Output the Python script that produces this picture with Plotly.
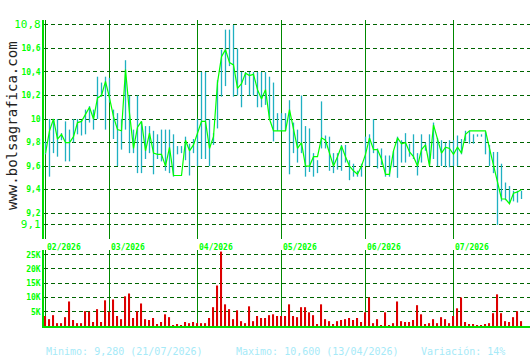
import plotly.graph_objects as go

# ---------------- data ----------------
high = [9.81, 10.0, 10.0, 10.0, 9.88, 9.98, 9.91, 10.0, 10.0, 9.99,
        10.08, 10.11, 10.08, 10.36, 10.31, 10.36, 10.35, 10.08, 10.05, 10.0,
        10.5, 10.2, 9.91, 10.2, 9.98, 9.94, 9.94, 9.9, 9.87, 9.91,
        9.91, 9.91, 9.87, 9.77, 9.77, 9.85, 9.79, 9.83, 10.0, 10.4,
        10.4, 10.0, 9.88, 10.33, 10.59, 10.76, 10.76, 10.8, 10.6, 10.4,
        10.4, 10.4, 10.4, 10.4, 10.4, 10.4, 10.36, 10.31, 10.05, 10.05,
        10.05, 10.16, 9.97, 9.91, 10.2, 9.94, 9.92, 9.71, 9.65, 10.15,
        9.86, 9.85, 9.71, 9.71, 9.78, 9.78, 9.65, 9.62, 9.56, 9.62,
        9.85, 9.87, 10.0, 9.75, 9.75, 9.69, 9.69, 9.73, 9.85, 9.82,
        9.88, 9.79, 9.87, 9.71, 9.87, 9.8, 9.87, 9.97, 9.84, 9.82,
        9.8, 9.82, 9.82, 9.86, 9.83, 9.9, 9.9, 9.87, 9.87, 9.87,
        9.89, 9.78, 9.72, 9.72, 9.62, 9.46, 9.43, 9.39, 9.39, 9.39]
low = [9.70, 9.51, 9.71, 9.68, 9.82, 9.64, 9.64, 9.8, 9.87, 9.86,
       9.87, 9.97, 9.91, 10.0, 10.19, 9.91, 10.14, 9.83, 9.6, 9.74,
       9.91, 9.71, 9.71, 9.54, 9.54, 9.66, 9.71, 9.53, 9.66, 9.64,
       9.56, 9.54, 9.51, 9.7, 9.71, 9.65, 9.52, 9.71, 9.6, 9.66,
       9.66, 9.6, 9.78, 9.92, 10.19, 10.28, 10.45, 10.19, 10.2, 10.1,
       10.29, 10.2, 10.2, 10.1, 10.1, 10.12, 10.0, 9.81, 9.9, 9.9,
       9.9, 9.53, 9.71, 9.63, 9.71, 9.51, 9.55, 9.51, 9.54, 9.75,
       9.75, 9.56, 9.54, 9.57, 9.56, 9.63, 9.48, 9.51, 9.51, 9.51,
       9.6, 9.6, 9.71, 9.58, 9.61, 9.51, 9.51, 9.59, 9.5, 9.63,
       9.63, 9.68, 9.66, 9.52, 9.63, 9.73, 9.62, 9.66, 9.6, 9.6,
       9.59, 9.59, 9.6, 9.6, 9.7, 9.81, 9.79, 9.79, 9.85, 9.85,
       9.7, 9.6, 9.54, 9.1, 9.3, 9.31, 9.29, 9.3, 9.29, 9.32]
close = [9.71, 9.9, 10.0, 9.83, 9.87, 9.8, 9.8, 9.85, 9.97, 9.98,
         10.04, 10.1, 10.0, 10.18, 10.2, 10.32, 10.18, 10.02, 9.91, 9.9,
         10.42, 10.05, 9.75, 9.93, 9.98, 9.73, 9.88, 9.71, 9.7, 9.7,
         9.6, 9.76, 9.52, 9.52, 9.52, 9.82, 9.73, 9.78, 9.88, 9.98,
         9.98, 9.75, 9.85, 10.31, 10.53, 10.59, 10.48, 10.46, 10.26, 10.3,
         10.39, 10.37, 10.38, 10.25, 10.17, 10.25, 10.0, 9.9, 9.9, 9.9,
         9.9, 10.08, 9.91, 9.75, 9.8, 9.6, 9.6, 9.68, 9.68, 9.84,
         9.82, 9.71, 9.6, 9.68, 9.77, 9.68, 9.6, 9.56, 9.53, 9.6,
         9.7, 9.84, 9.74, 9.74, 9.66, 9.53, 9.53, 9.73, 9.84, 9.79,
         9.8, 9.72, 9.68, 9.6, 9.74, 9.78, 9.6, 9.95, 9.82, 9.71,
         9.76, 9.75, 9.7, 9.76, 9.71, 9.87, 9.9, 9.9, 9.9, 9.9,
         9.9, 9.75, 9.6, 9.46, 9.32, 9.32, 9.28, 9.37, 9.38, 9.4]
volume = [3500, 2400, 3800, 1000, 1000, 3100, 8600, 2100, 1000, 1000,
          5200, 5000, 1400, 5900, 1400, 9000, 5000, 9300, 3500, 2400,
          10400, 11400, 2800, 5200, 7900, 2400, 2100, 2800, 700, 1400,
          4100, 3100, 350, 700, 350, 1400, 1000, 1400, 1000, 1000,
          1000, 2800, 6600, 14200, 26100, 7600, 5900, 2400, 5500, 1700,
          1000, 6900, 1700, 3500, 2800, 2800, 3800, 4100, 3500, 3500,
          3500, 7600, 3500, 3100, 6600, 6600, 4800, 3800, 700, 7600,
          2400, 1700, 700, 1700, 2100, 2400, 2800, 2100, 2800, 1400,
          4800, 10000, 1000, 2400, 350, 4800, 350, 1000, 8600, 1700,
          1400, 1400, 2100, 7300, 4100, 700, 1000, 2400, 1000, 3100,
          2400, 1000, 3500, 6200, 10000, 1400, 700, 700, 350, 350,
          700, 1000, 4500, 11100, 4500, 1700, 1400, 3100, 5200, 1700]

month_idx = [0, 16, 38, 59, 80, 102]
month_labels = ["02/2026", "03/2026", "04/2026", "05/2026", "06/2026", "07/2026"]

price_ticks = [10.8, 10.6, 10.4, 10.2, 10.0, 9.8, 9.6, 9.4, 9.2, 9.1]
price_labels = ["10,8", "10,6", "10,4", "10,2", "10", "9,8", "9,6", "9,4", "9,2", "9,1"]
vol_ticks = [5000, 10000, 15000, 20000, 25000]
vol_labels = ["5K", "10K", "15K", "20K", "25K"]

footer = ["Minimo: 9,280 (21/07/2026)", "Maximo: 10,600 (13/04/2026)", "Variación: 14%"]
watermark = "www.bolsagrafica.com"

# ---------------- figure ----------------
idx = list(range(len(close)))
MONO = "DejaVu Sans Mono"
GREEN = "#00ff00"

hl_x, hl_y = [], []
for i in idx:
    hl_x += [i, i, None]
    hl_y += [low[i], high[i], None]

big = {0, len(price_ticks) - 1}
ptext = [f"<span style='font-size:11px;font-weight:normal'>{t}</span>" if k in big else t
         for k, t in enumerate(price_labels)]

fig = go.Figure()
fig.add_trace(go.Scatter(x=hl_x, y=hl_y, mode="lines", line=dict(color="#1fb0c2", width=1.3),
                         xaxis="x", yaxis="y", hoverinfo="skip"))
fig.add_trace(go.Scatter(x=idx, y=close, mode="lines", line=dict(color=GREEN, width=1.2),
                         xaxis="x", yaxis="y"))
fig.add_trace(go.Bar(x=idx, y=volume, width=0.28, marker=dict(color="#dd0000", line=dict(width=0)),
                     xaxis="x2", yaxis="y2"))

main_bottom = (326 - 239) / 306
vol_top = 76 / 306

xcommon = dict(range=[-0.375, 121.125], tickvals=month_idx, showticklabels=False, ticks="",
               showgrid=True, gridcolor="#008800", gridwidth=1.2, zeroline=False)

fig.update_layout(
    width=530, height=360,
    margin=dict(l=44, r=0, t=20, b=34),
    paper_bgcolor="white", plot_bgcolor="white",
    showlegend=False,
    xaxis=dict(**xcommon, anchor="y", showline=False),
    xaxis2=dict(**xcommon, anchor="y2", showline=True, linecolor="#00dd00", linewidth=1.5),
    yaxis=dict(domain=[main_bottom, 1], range=[8.98, 10.842], tickvals=price_ticks, ticktext=ptext,
               showgrid=True, gridcolor="#006400", gridwidth=1, griddash="4px,3px",
               showline=True, linecolor="#00dd00", linewidth=1.5, ticks="", zeroline=False,
               tickfont=dict(family=MONO, size=8, color=GREEN, weight="bold")),
    yaxis2=dict(domain=[0, vol_top], range=[0, 26650], tickvals=vol_ticks, ticktext=vol_labels,
                showgrid=True, gridcolor="#006400", gridwidth=1, griddash="4px,3px",
                showline=True, linecolor="#00dd00", linewidth=1.5, ticks="", zeroline=False,
                tickfont=dict(family=MONO, size=8, color=GREEN, weight="bold")),
)

ann = []
for m, lab in zip(month_idx, month_labels):
    ann.append(dict(x=m, xref="x", y=(326 - 240.5) / 306, yref="paper", text=lab, showarrow=False,
                    xanchor="left", yanchor="top", xshift=-1,
                    font=dict(family=MONO, size=8, color=GREEN, weight="bold")))
for px, t in zip([44, 234, 419], footer):
    ann.append(dict(x=(px - 44) / 486, xref="paper", y=(326 - 351) / 306, yref="paper", text=t,
                    showarrow=False, xanchor="left", yanchor="middle",
                    font=dict(family=MONO, size=10, color="#a6eaf8")))
ann.append(dict(x=(12 - 44) / 486, xref="paper", y=(326 - 126) / 306, yref="paper", text=watermark,
                textangle=-90, showarrow=False, xanchor="center", yanchor="middle",
                font=dict(family=MONO, size=14, color="#222222")))
fig.update_layout(annotations=ann)

fig.write_html("out.html")
